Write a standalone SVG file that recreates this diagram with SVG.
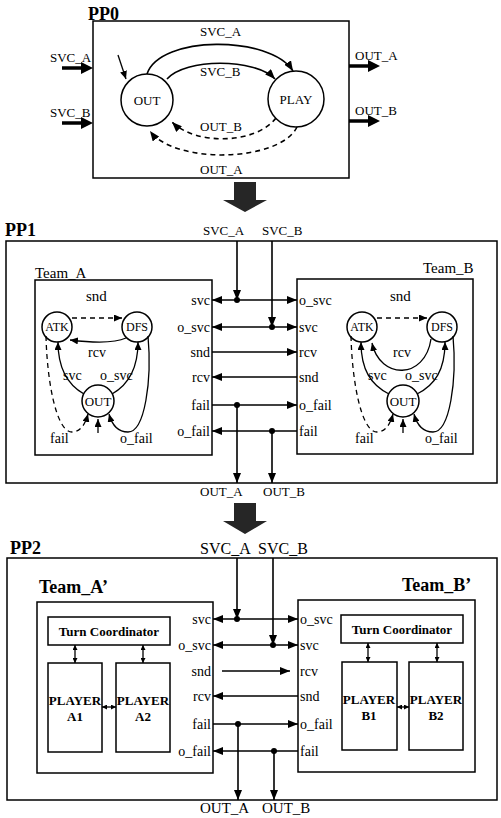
<svg xmlns="http://www.w3.org/2000/svg" width="501" height="818" viewBox="0 0 501 818">
<defs>
<style>
.box{fill:none;stroke:#000;stroke-width:1.5}
.ln{fill:none;stroke:#000;stroke-width:1.6}
.thin{fill:none;stroke:#000;stroke-width:1.3}
.dash{stroke-dasharray:5,4}
.circ{fill:#fff;stroke:#000;stroke-width:1.5}
text{font-family:"Liberation Serif","Times New Roman",serif;fill:#000}
.s13{font-size:13px}
.s14{font-size:14px}
.s12{font-size:12px}
.s15{font-size:15px}
.s16{font-size:16px}
.b{font-weight:bold}
.pp{font-size:18px;font-weight:bold}
.tm{font-size:18px;font-weight:bold}
.pl{font-size:13px;font-weight:bold}
.mid{text-anchor:middle}
.end{text-anchor:end}
.big{fill:#262626}
</style>
<marker id="ah" viewBox="0 0 10 8" refX="10" refY="4" markerWidth="10" markerHeight="8" markerUnits="userSpaceOnUse" orient="auto-start-reverse"><path d="M0,0 L10,4 L0,8 z" fill="#000"/></marker>
<marker id="sa" viewBox="0 0 8 7" refX="8" refY="3.5" markerWidth="8" markerHeight="7" markerUnits="userSpaceOnUse" orient="auto-start-reverse"><path d="M0,0 L8,3.5 L0,7 z" fill="#000"/></marker>
<marker id="sm" viewBox="0 0 6 6" refX="6" refY="3" markerWidth="5" markerHeight="5" markerUnits="userSpaceOnUse" orient="auto-start-reverse"><path d="M0,0 L6,3 L0,6 z" fill="#000"/></marker>
</defs>

<!-- ================= PP0 ================= -->
<g id="pp0">
<text x="88" y="20" class="pp">PP0</text>
<rect x="93" y="21" width="256" height="157" class="box"/>
<text x="50" y="62" class="s13">SVC_A</text>
<text x="50" y="117" class="s13">SVC_B</text>
<text x="355" y="60" class="s13">OUT_A</text>
<text x="355" y="115" class="s13">OUT_B</text>
<text x="200" y="36" class="s13">SVC_A</text>
<text x="200" y="76" class="s13">SVC_B</text>
<text x="200" y="131" class="s13">OUT_B</text>
<text x="200" y="174" class="s13">OUT_A</text>
</g>
<g id="pp0-out"><circle cx="147" cy="100" r="26" class="circ"/><text x="147" y="105" class="s13 mid">OUT</text></g>
<g id="pp0-play"><circle cx="296" cy="99" r="28" class="circ"/><text x="296" y="104" class="s13 mid">PLAY</text></g>
<g id="pp0-connectors">
<line x1="62" y1="68" x2="84" y2="68" stroke="#000" stroke-width="3.5"/><polygon points="81,62 93,68 81,74"/>
<line x1="62" y1="123" x2="84" y2="123" stroke="#000" stroke-width="3.5"/><polygon points="81,117 93,123 81,129"/>
<line x1="349" y1="66" x2="370" y2="66" stroke="#000" stroke-width="3.5"/><polygon points="368,60 380,66 368,72"/>
<line x1="349" y1="121" x2="370" y2="121" stroke="#000" stroke-width="3.5"/><polygon points="368,115 380,121 368,127"/>
<path d="M118,55 L126,79" class="thin" marker-end="url(#sa)"/>
<path d="M147,74 C160,35 270,35 293,71" class="ln" marker-end="url(#ah)"/>
<path d="M167,79 C185,58 255,58 275,79" class="ln" marker-end="url(#ah)"/>
<path d="M276,118 C255,145 195,145 172,122" class="ln dash" marker-end="url(#ah)"/>
<path d="M297,127 C280,162 175,165 150,131" class="ln dash" marker-end="url(#ah)"/>
</g>

<!-- big arrows -->
<g id="down1"><polygon class="big" points="234,182 256,182 256,200 267,200 245,212 223,200 234,200"/></g>
<g id="down2"><polygon class="big" points="234,503 256,503 256,521 267,521 245,534 223,521 234,521"/></g>

<!-- ================= PP1 ================= -->
<g id="pp1">
<text x="5" y="236" class="pp">PP1</text>
<rect x="6" y="241" width="491" height="242" class="box"/>
<text x="203" y="235" class="s13">SVC_A</text>
<text x="262" y="235" class="s13">SVC_B</text>
<text x="200" y="496" class="s13">OUT_A</text>
<text x="263" y="496" class="s13">OUT_B</text>
</g>

<g id="team-a">
<text x="35" y="278" class="s15">Team_A</text>
<rect x="35" y="280" width="177" height="175" class="box"/>
<text x="86" y="301" class="s15">snd</text>
<g class="s14">
<text x="210" y="305" class="end">svc</text>
<text x="210" y="332" class="end">o_svc</text>
<text x="210" y="357" class="end">snd</text>
<text x="210" y="382" class="end">rcv</text>
<text x="210" y="410" class="end">fail</text>
<text x="210" y="436" class="end">o_fail</text>
</g>
<g id="team-a-fsm">
<circle cx="57" cy="327" r="15" class="circ"/><text x="57" y="331" class="s12 mid">ATK</text>
<circle cx="137" cy="327" r="15" class="circ"/><text x="137" y="331" class="s12 mid">DFS</text>
<circle cx="98" cy="401" r="16" class="circ"/><text x="98" y="405.5" class="s13 mid">OUT</text>
<path d="M72,318 L122,318" class="thin dash" marker-end="url(#sa)"/>
<path d="M126,338 C115,343 95,343 70,340" class="thin" marker-end="url(#sa)"/>
<text x="88" y="357" class="s14">rcv</text>
<path d="M84,394 C68,385 58,370 58,342" class="thin" marker-end="url(#sa)"/>
<path d="M112,394 C128,385 138,370 138,342" class="thin" marker-end="url(#sa)"/>
<text x="63" y="380" class="s14">svc</text>
<text x="100" y="380" class="s14">o_svc</text>
<path d="M46,336 C47,380 56,432 72,432 C80,432 85,425 88,414" class="thin dash" marker-end="url(#sa)"/>
<path d="M148,336 C152,380 145,432 128,432 C118,432 112,425 109,414" class="thin" marker-end="url(#sa)"/>
<path d="M98,433 L98,419" class="thin" marker-end="url(#sa)"/>
<text x="50" y="443" class="s14">fail</text>
<text x="120" y="443" class="s14">o_fail</text>
</g>
</g>

<g id="team-b">
<text x="423" y="273" class="s15">Team_B</text>
<rect x="297" y="279" width="176" height="175" class="box"/>
<text x="390" y="301" class="s15">snd</text>
<g class="s14">
<text x="299" y="305">o_svc</text>
<text x="299" y="332">svc</text>
<text x="299" y="357">rcv</text>
<text x="299" y="382">snd</text>
<text x="299" y="410">o_fail</text>
<text x="299" y="436">fail</text>
</g>
<g transform="translate(305,0)">
<circle cx="57" cy="327" r="15" class="circ"/><text x="57" y="331" class="s12 mid">ATK</text>
<circle cx="137" cy="327" r="15" class="circ"/><text x="137" y="331" class="s12 mid">DFS</text>
<circle cx="98" cy="401" r="16" class="circ"/><text x="98" y="405.5" class="s13 mid">OUT</text>
<path d="M72,318 L122,318" class="thin dash" marker-end="url(#sa)"/>
<path d="M126,339 C120,380 75,380 67,343" class="thin" marker-end="url(#sa)"/>
<text x="88" y="357" class="s14">rcv</text>
<path d="M84,394 C66,385 56,370 56,342" class="thin" marker-end="url(#sa)"/>
<path d="M112,394 C130,385 140,370 140,342" class="thin" marker-end="url(#sa)"/>
<text x="63" y="380" class="s14">svc</text>
<text x="100" y="380" class="s14">o_svc</text>
<path d="M46,336 C47,380 56,432 72,432 C80,432 85,425 88,414" class="thin dash" marker-end="url(#sa)"/>
<path d="M148,336 C152,380 145,432 128,432 C118,432 112,425 109,414" class="thin" marker-end="url(#sa)"/>
<path d="M98,433 L98,419" class="thin" marker-end="url(#sa)"/>
<text x="50" y="443" class="s14">fail</text>
<text x="120" y="443" class="s14">o_fail</text>
</g>
</g>

<g id="pp1-connectors">
<line x1="237" y1="241" x2="237" y2="300" class="ln" marker-end="url(#ah)"/>
<line x1="272" y1="241" x2="272" y2="327" class="ln" marker-end="url(#ah)"/>
<line x1="212" y1="300" x2="297" y2="300" class="ln" marker-start="url(#ah)" marker-end="url(#ah)"/>
<line x1="212" y1="327" x2="297" y2="327" class="ln" marker-start="url(#ah)" marker-end="url(#ah)"/>
<line x1="212" y1="352" x2="297" y2="352" class="ln" marker-end="url(#ah)"/>
<line x1="297" y1="377" x2="212" y2="377" class="ln" marker-end="url(#ah)"/>
<line x1="212" y1="405" x2="297" y2="405" class="ln" marker-end="url(#ah)"/>
<line x1="297" y1="431" x2="212" y2="431" class="ln" marker-end="url(#ah)"/>
<line x1="237" y1="405" x2="237" y2="483" class="ln" marker-end="url(#ah)"/>
<line x1="272" y1="431" x2="272" y2="483" class="ln" marker-end="url(#ah)"/>
<circle cx="237" cy="300" r="3"/><circle cx="272" cy="327" r="3"/>
<circle cx="237" cy="405" r="3"/><circle cx="272" cy="431" r="3"/>
</g>

<!-- ================= PP2 ================= -->
<g id="pp2">
<text x="10" y="554" class="pp">PP2</text>
<rect x="7" y="558" width="490" height="242" class="box"/>
<text x="200" y="554" class="s16">SVC_A</text>
<text x="258" y="554" class="s16">SVC_B</text>
<text x="200" y="813" class="s15">OUT_A</text>
<text x="262" y="813" class="s15">OUT_B</text>
</g>

<g id="team-a2">
<text x="39" y="593" class="tm">Team_A’</text>
<rect x="37" y="602" width="176" height="171" class="box"/>
<g class="s14">
<text x="211" y="624" class="end">svc</text>
<text x="211" y="650" class="end">o_svc</text>
<text x="211" y="676" class="end">snd</text>
<text x="211" y="701" class="end">rcv</text>
<text x="211" y="729" class="end">fail</text>
<text x="211" y="756" class="end">o_fail</text>
</g>
<g id="tc-a"><rect x="48" y="617" width="122" height="28" class="box"/><text x="109" y="636" class="pl mid">Turn Coordinator</text></g>
<g id="player-a1"><rect x="48" y="663" width="54" height="89" class="box"/><text x="75" y="705" class="pl mid">PLAYER</text><text x="75" y="721" class="pl mid">A1</text></g>
<g id="player-a2"><rect x="116" y="663" width="54" height="89" class="box"/><text x="143" y="705" class="pl mid">PLAYER</text><text x="143" y="721" class="pl mid">A2</text></g>
<line x1="75" y1="645" x2="75" y2="663" class="thin" marker-start="url(#sm)" marker-end="url(#sm)"/>
<line x1="143" y1="645" x2="143" y2="663" class="thin" marker-start="url(#sm)" marker-end="url(#sm)"/>
<line x1="102" y1="707" x2="116" y2="707" class="thin" marker-start="url(#sm)" marker-end="url(#sm)"/>
</g>

<g id="team-b2">
<text x="402" y="591" class="tm">Team_B’</text>
<rect x="298" y="600" width="177" height="172" class="box"/>
<g class="s14">
<text x="300" y="624">o_svc</text>
<text x="300" y="650">svc</text>
<text x="300" y="676">rcv</text>
<text x="300" y="701">snd</text>
<text x="300" y="729">o_fail</text>
<text x="300" y="756">fail</text>
</g>
<g id="tc-b"><rect x="341" y="615" width="122" height="28" class="box"/><text x="402" y="634" class="pl mid">Turn Coordinator</text></g>
<g id="player-b1"><rect x="342" y="662" width="55" height="88" class="box"/><text x="369" y="704" class="pl mid">PLAYER</text><text x="369" y="720" class="pl mid">B1</text></g>
<g id="player-b2"><rect x="409" y="662" width="54" height="88" class="box"/><text x="436" y="704" class="pl mid">PLAYER</text><text x="436" y="720" class="pl mid">B2</text></g>
<line x1="368" y1="643" x2="368" y2="662" class="thin" marker-start="url(#sm)" marker-end="url(#sm)"/>
<line x1="437" y1="643" x2="437" y2="662" class="thin" marker-start="url(#sm)" marker-end="url(#sm)"/>
<line x1="397" y1="707" x2="409" y2="707" class="thin" marker-start="url(#sm)" marker-end="url(#sm)"/>
</g>

<g id="pp2-connectors">
<line x1="237" y1="558" x2="237" y2="619" class="ln" marker-end="url(#ah)"/>
<line x1="273" y1="558" x2="273" y2="645" class="ln" marker-end="url(#ah)"/>
<line x1="213" y1="619" x2="298" y2="619" class="ln" marker-start="url(#ah)" marker-end="url(#ah)"/>
<line x1="213" y1="645" x2="298" y2="645" class="ln" marker-start="url(#ah)" marker-end="url(#ah)"/>
<line x1="222" y1="671" x2="290" y2="671" class="ln" marker-end="url(#ah)"/>
<line x1="298" y1="696" x2="213" y2="696" class="ln" marker-end="url(#ah)"/>
<line x1="213" y1="724" x2="298" y2="724" class="ln" marker-end="url(#ah)"/>
<line x1="298" y1="751" x2="213" y2="751" class="ln" marker-end="url(#ah)"/>
<line x1="238" y1="724" x2="238" y2="800" class="ln" marker-end="url(#ah)"/>
<line x1="274" y1="751" x2="274" y2="800" class="ln" marker-end="url(#ah)"/>
<circle cx="237" cy="619" r="3"/><circle cx="273" cy="645" r="3"/>
<circle cx="238" cy="724" r="3"/><circle cx="274" cy="751" r="3"/>
</g>
</svg>
